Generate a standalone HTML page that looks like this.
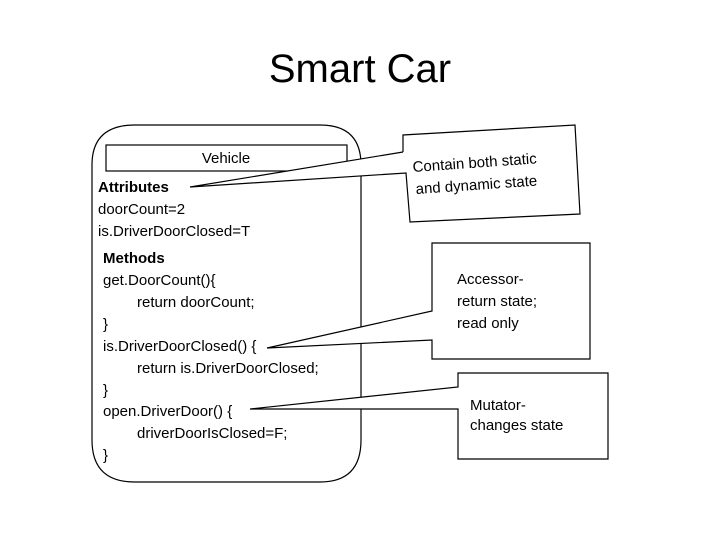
<!DOCTYPE html>
<html><head><meta charset="utf-8"><style>
body{margin:0;background:#fff;}
svg text{font-family:"Liberation Sans",sans-serif;fill:#000;}
</style></head><body>
<svg width="720" height="540" xmlns="http://www.w3.org/2000/svg">
<text x="360" y="82" font-size="40" text-anchor="middle">Smart Car</text>
<g fill="none" stroke="#000" stroke-width="1.2">
<path d="M135,125 L320,125 Q361,125 361,165 L361,440 Q361,482 320,482 L135,482 Q92,482 92,440 L92,165 Q92,125 135,125 Z"/>
<rect x="106" y="145" width="241" height="26" fill="#fff"/>
<!-- callout 1 -->
<path d="M403,152 L403,135 L575,125 L580,214 L410,222 L406,173 L190,187 L403,152" fill="#fff"/>
<!-- callout 2 -->
<path d="M432,311 L432,243 L590,243 L590,359 L432,359 L432,340 L267,348 Z" fill="#fff"/>
<!-- callout 3 -->
<path d="M458,387 L458,373 L608,373 L608,459 L458,459 L458,409 L250,409 Z" fill="#fff"/>
</g>
<g font-size="15">
<text x="226" y="163" text-anchor="middle">Vehicle</text>
<text x="98" y="192" font-weight="bold">Attributes</text>
<text x="98" y="214">doorCount=2</text>
<text x="98" y="236">is.DriverDoorClosed=T</text>
<text x="103" y="263" font-weight="bold">Methods</text>
<text x="103" y="285">get.DoorCount(){</text>
<text x="137" y="307">return doorCount;</text>
<text x="103" y="329">}</text>
<text x="103" y="351">is.DriverDoorClosed() {</text>
<text x="137" y="373">return is.DriverDoorClosed;</text>
<text x="103" y="395">}</text>
<text x="103" y="416">open.DriverDoor() {</text>
<text x="137" y="438">driverDoorIsClosed=F;</text>
<text x="103" y="460">}</text>
<text transform="translate(413,172) rotate(-4)">Contain both static</text>
<text transform="translate(416,194) rotate(-4)">and dynamic state</text>
<text x="457" y="284">Accessor-</text>
<text x="457" y="306">return state;</text>
<text x="457" y="328">read only</text>
<text x="470" y="410">Mutator-</text>
<text x="470" y="430">changes state</text>
</g>
</svg>
</body></html>
